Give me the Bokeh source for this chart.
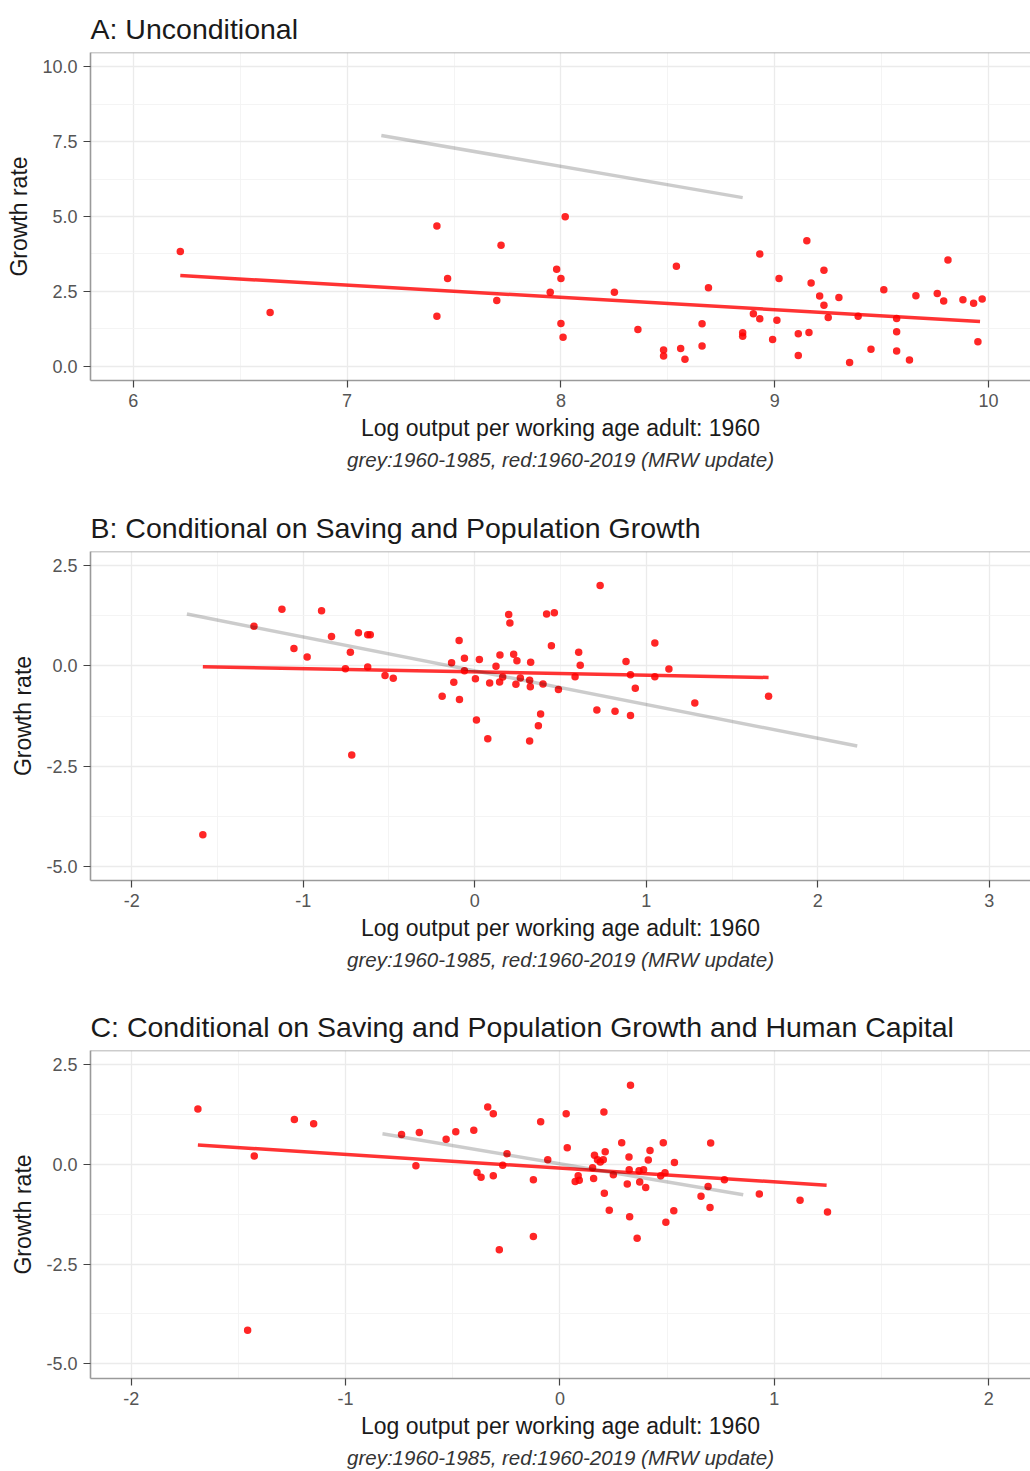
from bokeh.plotting import figure
from bokeh.models import Range1d, FixedTicker, NumeralTickFormatter, Title, Span
from bokeh.layouts import column
from bokeh.embed import file_html
from bokeh.resources import INLINE

FONT = "Liberation Sans"

# ---------------- data ----------------
# Panel A: unconditional
A_x = [6.22, 6.64, 7.42, 7.72, 7.47, 7.70, 7.42, 8.02, 7.98, 8.00, 7.95, 8.00, 8.01, 8.25, 8.36,
       8.48, 8.48, 8.54, 8.56, 8.58, 8.69, 8.66, 8.66, 8.85, 8.85, 8.90, 8.93, 8.93, 9.01, 8.99,
       9.02, 9.11, 9.11, 9.15, 9.16, 9.17, 9.21, 9.23, 9.23, 9.25, 9.30, 9.35, 9.39, 9.45, 9.51,
       9.57, 9.57, 9.57, 9.63, 9.66, 9.76, 9.79, 9.81, 9.88, 9.93, 9.97, 9.95]
A_y = [3.83, 1.80, 4.68, 4.04, 2.93, 2.20, 1.67, 4.99, 3.24, 2.93, 2.47, 1.43, 0.97, 2.47, 1.23,
       0.55, 0.35, 3.34, 0.60, 0.24, 2.62, 1.42, 0.68, 1.12, 1.01, 1.76, 1.59, 3.75, 1.54, 0.90,
       2.93, 1.09, 0.36, 4.19, 1.13, 2.78, 2.35, 3.21, 2.04, 1.63, 2.30, 0.13, 1.67, 0.57, 2.56,
       0.51, 1.16, 1.60, 0.21, 2.36, 2.43, 2.18, 3.55, 2.22, 2.11, 2.25, 0.82]
A_red_x = [6.22, 9.96]
A_red_y = [3.03, 1.50]
A_grey_x = [7.16, 8.85]
A_grey_y = [7.70, 5.63]

# Panel B: conditional on saving and population growth
B_x = [-1.585, -1.287, -1.124, -1.054, -0.977, -0.893, -0.835, -0.725, -0.754, -0.717, -0.678,
       -0.624, -0.609, -0.624, -0.523, -0.475, -0.190, -0.135, -0.122, -0.091, -0.089, -0.060,
       -0.060, 0.004, 0.010, 0.027, 0.076, 0.087, 0.124, 0.147, 0.145, 0.163, 0.198, 0.205,
       0.227, 0.246, 0.240, 0.266, 0.320, 0.326, 0.324, 0.320, 0.371, 0.384, 0.398, 0.419,
       0.464, 0.447, 0.488, 0.585, 0.606, 0.615, 0.712, 0.731, 0.818, 0.882, 0.908, 0.908,
       0.936, 1.050, 1.050, 1.132, 1.283, 1.713]
B_y = [-4.21, 0.99, 1.41, 0.43, 0.22, 1.375, 0.73, 0.34, -0.07, -2.22, 0.825,
       0.775, 0.775, -0.03, -0.24, -0.31, -0.76, 0.075, -0.41, 0.63, -0.84, 0.19,
       -0.125, -0.32, -1.35, 0.16, -1.82, -0.425, -0.01, 0.27, -0.40, -0.275, 1.28, 1.07,
       0.29, 0.125, -0.46, -0.30, -0.36, 0.09, -0.52, -1.875, -1.49, -1.20, -0.45, 1.29,
       1.325, 0.50, -0.59, -0.27, 0.34, 0.015, -1.10, 2.00, -1.13, 0.11, -0.22, -1.24,
       -0.56, 0.57, -0.27, -0.08, -0.925, -0.76]
B_red_x = [-1.585, 1.713]
B_red_y = [-0.02, -0.29]
B_grey_x = [-1.678, 2.23]
B_grey_y = [1.29, -2.00]

# Panel C: conditional on saving, population growth and human capital
C_x = [-1.689, -1.426, -1.457, -1.239, -1.149, -0.739, -0.656, -0.672, -0.531, -0.486, -0.402,
       -0.387, -0.368, -0.337, -0.311, -0.311, -0.283, -0.267, -0.247, -0.124, -0.124, -0.090,
       -0.057, 0.029, 0.034, 0.071, 0.085, 0.090, 0.152, 0.161, 0.157, 0.175, 0.188, 0.202,
       0.205, 0.211, 0.207, 0.230, 0.249, 0.288, 0.322, 0.323, 0.314, 0.325, 0.329, 0.360,
       0.369, 0.372, 0.390, 0.400, 0.412, 0.420, 0.482, 0.470, 0.490, 0.534, 0.494, 0.531,
       0.658, 0.691, 0.703, 0.700, 0.767, 0.930, 1.120, 1.248]
C_y = [1.39, 0.21, -4.16, 1.13, 1.02, 0.75, 0.80, -0.03, 0.63, 0.82, 0.86,
       -0.20, -0.32, 1.44, 1.27, -0.28, -2.14, -0.02, 0.27, -1.81, -0.38, 1.07,
       0.12, 1.27, 0.42, -0.43, -0.28, -0.395, -0.085, 0.23, -0.35, 0.12, 0.065, 0.12,
       1.32, 0.32, -0.72, -1.15, -0.26, 0.545, 0.19, -0.135, -0.49, -1.31, 1.99, -1.85,
       -0.16, -0.44, -0.13, -0.58, 0.11, 0.35, 0.545, -0.28, -0.21, 0.05, -1.45, -1.16,
       -0.80, -0.55, 0.54, -1.08, -0.385, -0.74, -0.90, -1.19]
C_red_x = [-1.689, 1.244]
C_red_y = [0.49, -0.52]
C_grey_x = [-0.828, 0.855]
C_grey_y = [0.77, -0.76]

# tick values
A_xticks = [6, 7, 8, 9, 10]
A_xminor = [5.5, 6.5, 7.5, 8.5, 9.5]
A_yticks = [0.0, 2.5, 5.0, 7.5, 10.0]
A_yminor = [1.25, 3.75, 6.25, 8.75]
B_xticks = [-2, -1, 0, 1, 2, 3]
B_xminor = [-1.5, -0.5, 0.5, 1.5, 2.5]
BC_yticks = [-5.0, -2.5, 0.0, 2.5]
BC_yminor = [-3.75, -1.25, 1.25]
C_xticks = [-2, -1, 0, 1, 2]
C_xminor = [-1.5, -0.5, 0.5, 1.5]

A_xr, A_yr = (5.80, 10.196), (-0.47, 10.47)
B_xr, B_yr = (-2.24, 3.24), (-5.35, 2.85)
C_xr, C_yr = (-2.19, 2.195), (-5.37, 2.86)

XLABEL = "Log output per working age adult: 1960"
YLABEL = "Growth rate"
SUB = "grey:1960-1985, red:1960-2019 (MRW update)"

BORDER = "#9a9a9a"
TICK_OUT = 7
STANDOFF = 6


def style_axis(ax, ticker, fmt):
    ax.ticker = ticker
    ax.formatter = NumeralTickFormatter(format=fmt)
    ax.axis_line_color = BORDER
    ax.axis_line_width = 1.6
    ax.major_tick_line_color = "#444444"
    ax.major_tick_line_width = 1.2
    ax.major_tick_out = TICK_OUT
    ax.major_tick_in = 0
    ax.minor_tick_line_color = None
    ax.major_label_text_font = FONT
    ax.major_label_text_font_size = "18px"
    ax.major_label_text_color = "#555555"
    ax.major_label_standoff = STANDOFF
    ax.axis_label_text_font = FONT
    ax.axis_label_text_font_size = "23px"
    ax.axis_label_text_font_style = "normal"
    ax.axis_label_text_color = "#1a1a1a"


def make_panel(title, xr, yr, xt, xm, yt, ym, xfmt, height, top, bottom, left,
               xs, ys, rx, ry, gx, gy):
    p = figure(width=1030, height=height, x_range=Range1d(*xr), y_range=Range1d(*yr),
               output_backend="svg", toolbar_location=None,
               min_border_left=left, min_border_right=0, min_border_top=top,
               min_border_bottom=bottom, outline_line_color=None,
               background_fill_color="white", border_fill_color="white")
    p.title.text = title
    p.title.text_font = FONT
    p.title.text_font_size = "28.5px"
    p.title.text_font_style = "normal"
    p.title.text_color = "#1a1a1a"
    p.title.align = "left"
    p.title.vertical_align = "top"
    p.title.standoff = 11

    style_axis(p.xaxis[0], FixedTicker(ticks=xt, minor_ticks=xm), xfmt)
    style_axis(p.yaxis[0], FixedTicker(ticks=yt, minor_ticks=ym), "0.0")
    p.xaxis.axis_label = XLABEL
    p.yaxis.axis_label = YLABEL
    p.xaxis.axis_label_standoff = 5
    p.yaxis.axis_label_standoff = 7

    # top panel border
    p.add_layout(Span(location=yr[1], dimension="width", line_color=BORDER, line_width=1.6))

    p.grid.grid_line_color = "#ebebeb"
    p.grid.grid_line_width = 1.3
    p.grid.minor_grid_line_color = "#f3f3f3"
    p.grid.minor_grid_line_width = 0.9

    p.add_layout(Title(text=SUB, align="center", text_font=FONT, text_font_style="italic",
                       text_font_size="20.5px", text_color="#333333", standoff=4), "below")

    p.scatter(xs, ys, size=7.5, fill_color="#ff0000", fill_alpha=0.85, line_color=None)
    p.line(rx, ry, line_color="#ff0000", line_width=3.5, line_alpha=0.8)
    p.line(gx, gy, line_color="black", line_width=3.5, line_alpha=0.2)
    return p


pA = make_panel("A: Unconditional", A_xr, A_yr, A_xticks, A_xminor, A_yticks, A_yminor, "0",
                500, 52, 120, 90, A_x, A_y, A_red_x, A_red_y, A_grey_x, A_grey_y)
pB = make_panel("B: Conditional on Saving and Population Growth", B_xr, B_yr, B_xticks, B_xminor,
                BC_yticks, BC_yminor, "0", 500, 51, 120, 85,
                B_x, B_y, B_red_x, B_red_y, B_grey_x, B_grey_y)
pC = make_panel("C: Conditional on Saving and Population Growth and Human Capital", C_xr, C_yr,
                C_xticks, C_xminor, BC_yticks, BC_yminor, "0", 471, 50, 93, 85,
                C_x, C_y, C_red_x, C_red_y, C_grey_x, C_grey_y)

layout = column(pA, pB, pC, spacing=0)
open("out.html", "w").write(file_html(layout, INLINE))
